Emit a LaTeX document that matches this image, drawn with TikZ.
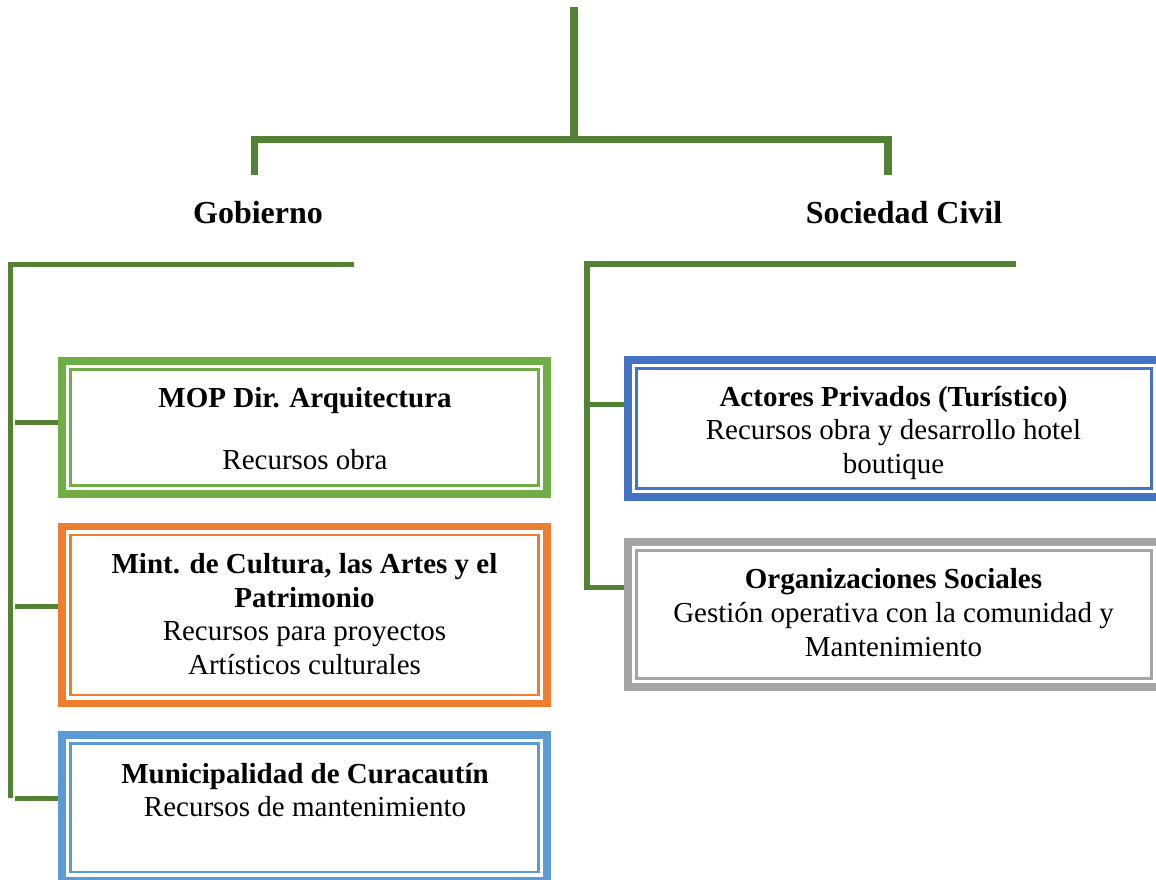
\documentclass[tikz,border=0pt]{standalone}
\usepackage{fontspec}
\setmainfont{Liberation Serif}
\definecolor{lin}{HTML}{548235}
\definecolor{cgreen}{HTML}{70AD47}
\definecolor{corange}{HTML}{ED7D31}
\definecolor{clblue}{HTML}{5B9BD5}
\definecolor{cblue}{HTML}{4472C4}
\definecolor{cgray}{HTML}{A5A5A5}
\begin{document}
\begin{tikzpicture}[x=1pt,y=-1pt,
  conn/.style={draw=lin, line width=5.5pt, line join=miter},
  obox/.style={draw=#1, line width=7.5pt, fill=white},
  ibox/.style={draw=#1, line width=2.4pt},
  txt/.style={align=center, font=\fontsize{29}{33.8}\selectfont, inner sep=0pt},
  head/.style={font=\fontsize{32}{36}\selectfont\bfseries, inner sep=0pt}]
\useasboundingbox (0,0) rectangle (1156,880);
\clip (0,0) rectangle (1156,880);

% boxes
\node[obox=cgreen, minimum width=485pt, minimum height=133pt] (b1) at (304.5,427.5) {};
\node[obox=corange, minimum width=485pt, minimum height=177pt] (b2) at (304.5,615) {};
\node[obox=clblue, minimum width=485pt, minimum height=145.5pt] (b3) at (304.5,807.75) {};
\node[obox=cblue, minimum width=532pt, minimum height=137pt] (b4) at (894,428.5) {};
\node[obox=cgray, minimum width=532pt, minimum height=145pt] (b5) at (894,614.5) {};
\foreach \b/\c in {b1/cgreen,b2/corange,b3/clblue,b4/cblue,b5/cgray}{
  \draw[ibox=\c] ([shift={(12.2pt,-12.2pt)}]\b.north west) rectangle ([shift={(-12.2pt,12.2pt)}]\b.south east);
}

% texts
\node[txt] (t1) at (305,428.5) {\textbf{MOP Dir. Arquitectura}\\[27.5pt]Recursos obra};
\node[txt] (t2) at (304.5,614) {\textbf{Mint. de Cultura, las Artes y el}\\\textbf{Patrimonio}\\Recursos para proyectos\\Artísticos culturales};
\node[txt] (t3) at (305,790) {\textbf{Municipalidad de Curacautín}\\Recursos de mantenimiento};
\node[txt] (t4) at (893.5,433) {\textbf{Actores Privados (Turístico)}\\Recursos obra y desarrollo hotel\\boutique};
\node[txt] (t5) at (893.5,612.5) {\textbf{Organizaciones Sociales}\\Gestión operativa con la comunidad y\\Mantenimiento};

% headers
\node[head] (gob) at (258,213) {Gobierno};
\node[head] (soc) at (904,213) {Sociedad Civil};

% top connector
\coordinate (top) at (574,7);
\coordinate (tj) at (574,139.7);
\coordinate (gl) at (254.5,175);
\coordinate (sr) at (888,175);
\draw[conn, line width=7.5pt] (top) -- (tj);
\draw[conn, line width=7.5pt] (gl) -- (gl |- tj) -- (sr |- tj) -- (sr);

% left bracket
\coordinate (lt) at (354.3,264.8);
\coordinate (lc) at (10.8,264.8);
\coordinate (lb) at (10.8,798.3);
\draw[conn, line width=5pt] (lt) -- (lc) -- (lb);
\coordinate (s1) at (15,422.5);
\coordinate (s2) at (15,606);
\coordinate (s3) at (15,798.3);
\draw[conn, line width=5pt] (s1) -- (s1 -| b1.west);
\draw[conn, line width=5pt] (s2) -- (s2 -| b2.west);
\draw[conn, line width=5pt] (s3) -- (s3 -| b3.west);

% right bracket
\coordinate (rt) at (1016,263.5);
\coordinate (rc) at (587,263.5);
\coordinate (rb) at (587,589.5);
\draw[conn, line width=6pt] (rt) -- (rc) -- (rb);
\coordinate (r1) at (587,404);
\coordinate (r2) at (587,587);
\draw[conn, line width=5pt] (r1) -- (r1 -| b4.west);
\draw[conn, line width=5pt] (r2) -- (r2 -| b5.west);
\end{tikzpicture}
\end{document}
